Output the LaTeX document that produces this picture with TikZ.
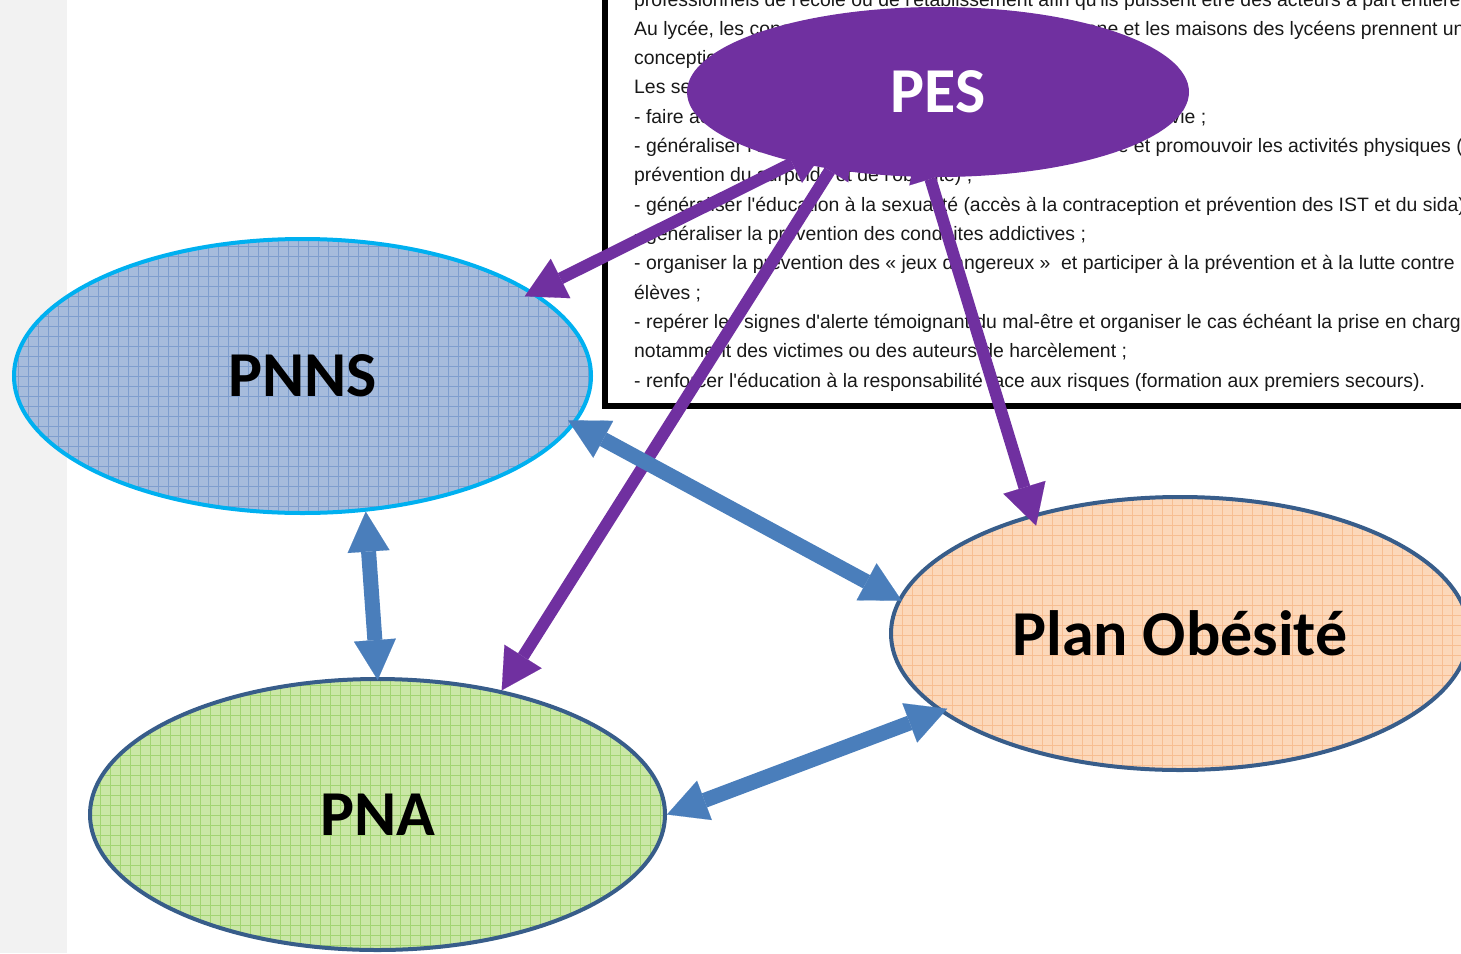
\documentclass[tikz,border=0pt]{standalone}
\usepackage{fontspec}
\setmainfont{Liberation Sans}[Ligatures=TeXOff]
\newfontfamily\labelfont{Carlito}
\usetikzlibrary{arrows.meta,shapes.geometric}

\definecolor{stripgray}{HTML}{F2F2F2}
\definecolor{pesviolet}{HTML}{7030A0}
\definecolor{linkblue}{HTML}{4A7EBB}
\definecolor{edgeblue}{HTML}{385D8A}
\definecolor{pnnsedge}{HTML}{00B0F0}
\definecolor{pnnsfill}{HTML}{A6BCDC}
\definecolor{pnnsgrid}{HTML}{7E9ECE}
\definecolor{pnafill}{HTML}{CAE7A6}
\definecolor{pnagrid}{HTML}{A2D472}
\definecolor{obesfill}{HTML}{FCD8BA}
\definecolor{obesgrid}{HTML}{F7BE92}

\pgfdeclarelayer{top}
\pgfsetlayers{main,top}

\tikzset{
  programme/.style={ellipse, inner sep=0pt, line width=4pt,
    font=\labelfont\bfseries\fontsize{64}{70}\selectfont},
  gridded/.style={path picture={
    \draw[#1, line width=0.7pt] (path picture bounding box.south west)
      grid[step=10pt] (path picture bounding box.north east);}},
  pesarrow/.style={pesviolet, line width=12pt,
    {Triangle[width=44pt,length=40pt,line width=0.1pt]}-{Triangle[width=44pt,length=40pt,line width=0.1pt]}},
  linkarrow/.style={linkblue, line width=15pt,
    {Triangle[width=42pt,length=40pt,line width=0.1pt]}-{Triangle[width=42pt,length=40pt,line width=0.1pt]}},
  textline/.style={anchor=base west, inner sep=0pt, text=black!90,
    font=\fontsize{19.4}{29}\selectfont}
}

\begin{document}
\begin{tikzpicture}[x=1pt,y=-1pt]
  \useasboundingbox (0,0) rectangle (1461,953);
  \clip (0,0) rectangle (1461,953);
  \fill[stripgray] (0,0) rectangle (67,953);

  % le texte de la circulaire
  \draw[line width=6pt, fill=white] (605,-20) rectangle (1490,405.5);
  \node[textline] (l0) at (634,6) {professionnels de l'école ou de l'établissement afin qu'ils puissent être des acteurs à part entière};
  \node[textline] (l1) at (634,35) {Au lycée, les conseils des délégués pour la vie lycéenne et les maisons des lycéens prennent une part};
  \node[textline] (l2) at (634,64.3) {conception et à la mise en œuvre des actions.};
  \node[textline] (l3) at (634,93.6) {Les sept priorités sont :};
  \node[textline] (l4) at (634,123) {- faire acquérir aux enfants de bonnes habitudes d'hygiène de vie ;};
  \node[textline] (l5) at (634,152.3) {- généraliser l'éducation nutritionnelle et l'offre alimentaire et promouvoir les activités physiques (};
  \node[textline] (l6) at (634,181.6) {prévention du surpoids et de l'obésité) ;};
  \node[textline] (l7) at (634,211) {- généraliser l'éducation à la sexualité (accès à la contraception et prévention des IST et du sida) ;};
  \node[textline] (l8) at (634,240.3) {- généraliser la prévention des conduites addictives ;};
  \node[textline] (l9) at (634,269.6) {- organiser la prévention des « jeux dangereux »~ et participer à la prévention et à la lutte contre le harcèlement entre};
  \node[textline] (l10) at (634,299) {élèves ;};
  \node[textline] (l11) at (634,328.3) {- repérer les signes d'alerte témoignant du mal-être et organiser le cas échéant la prise en charge des élèves};
  \node[textline] (l12) at (634,357.6) {notamment des victimes ou des auteurs de harcèlement ;};
  \node[textline] (l13) at (634,387) {- renforcer l'éducation à la responsabilité face aux risques (formation aux premiers secours).};

  % les plans
  \node[programme, draw=pnnsedge, fill=pnnsfill, gridded=pnnsgrid,
    minimum width=577pt, minimum height=274pt] (pnns) at (302.5,376) {PNNS};
  \node[programme, draw=edgeblue, fill=pnafill, gridded=pnagrid,
    minimum width=575pt, minimum height=271pt] (pna) at (377.5,814.5) {PNA};
  \node[programme, draw=edgeblue, fill=obesfill, gridded=obesgrid,
    minimum width=578pt, minimum height=273pt] (obes) at (1180,633.5) {Plan Obésité};
  \begin{pgfonlayer}{top}
    \node[programme, fill=pesviolet, text=white,
      minimum width=502pt, minimum height=170pt] (pes) at (938,92) {PES};
  \end{pgfonlayer}

  % liens
  \draw[pesarrow, shorten <=-40pt, shorten >=-10pt] (pes.206) -- (pnns.20);
  \draw[pesarrow, shorten <=-40pt] (pes.216) -- (pna.45);
  \draw[pesarrow, shorten <=-40pt, shorten >=-12pt] (pes.265) -- (obes.141);
  \draw[linkarrow, shorten >=-3pt] (pnns.-65) -- (pna.90);
  \draw[linkarrow, shorten <=-8pt, shorten >=-4pt] (pnns.-10) -- (obes.173);
  \draw[linkarrow, shorten >=-8pt] (pna.0) -- (obes.198);
\end{tikzpicture}
\end{document}
